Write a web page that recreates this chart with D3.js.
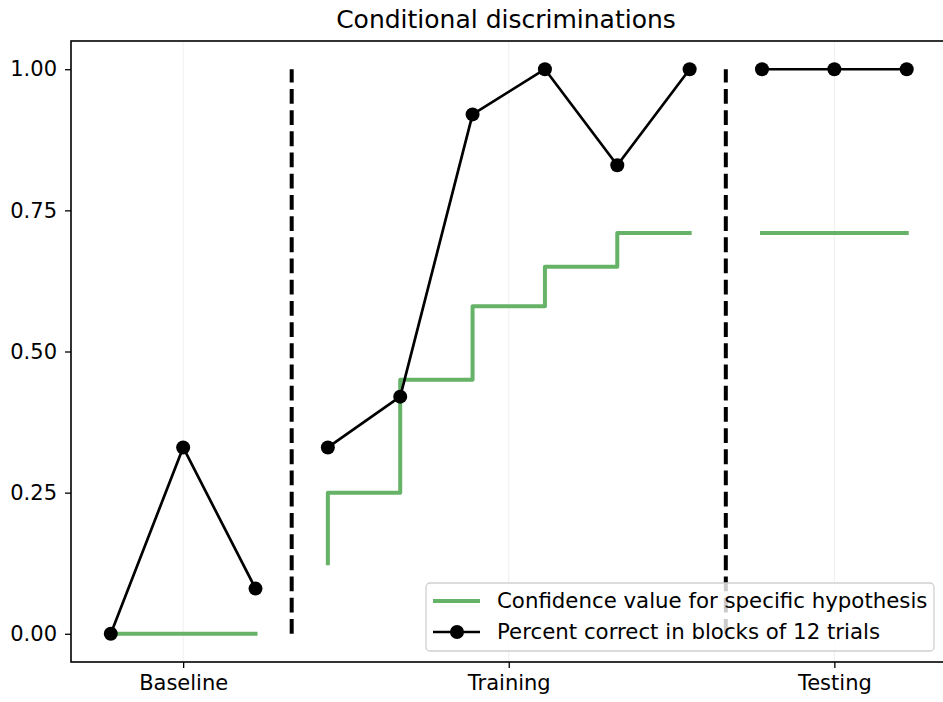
<!DOCTYPE html>
<html>
<head>
<meta charset="utf-8">
<script src="https://cdn.jsdelivr.net/npm/d3@7"></script>
<style>
  body { margin: 0; background: #fff; }
  text { font-family: "DejaVu Sans", sans-serif; }
</style>
</head>
<body>
<div id="wrapper"></div>
<script>
// data (x = block index)
const baselineX = [0, 1, 2]
const trainingX = [3, 4, 5, 6, 7, 8]
const testingX = [9, 10, 11]

const baselineCorrect = [0, 0.33, 0.08]
const trainingCorrect = [0.33, 0.42, 0.92, 1.0, 0.83, 1.0]
const testingCorrect = [1.0, 1.0, 1.0]

const baselineConfidence = [0, 0, 0]
const trainingConfidence = [0.125, 0.25, 0.45, 0.58, 0.65, 0.71]
const testingConfidence = [0.71, 0.71, 0.71]

const phaseTicks = [1, 5.5, 10]
const phaseLabels = ['Baseline', 'Training', 'Testing']
const dividers = [2.5, 8.5]
const yTicks = [0, 0.25, 0.5, 0.75, 1.0]

const legendLabels = ['Confidence value for specific hypothesis', 'Percent correct in blocks of 12 trials']

const greenColor = '#66b266'

const dimensions = {
  width: 943,
  height: 702,
  margins: { top: 41, right: -3.5, bottom: 40, left: 71 }
}
dimensions.boundedWidth = dimensions.width - dimensions.margins.left - dimensions.margins.right
dimensions.boundedHeight = dimensions.height - dimensions.margins.top - dimensions.margins.bottom

const wrapper = d3.select('#wrapper').append('svg')
  .attr('width', dimensions.width)
  .attr('height', dimensions.height)

const bounds = wrapper.append('g')
  .attr('transform', `translate(${dimensions.margins.left},${dimensions.margins.top})`)

const xScale = d3.scaleLinear()
  .domain([-0.55, 11.55])
  .range([0, dimensions.boundedWidth])

const yScale = d3.scaleLinear()
  .domain([-0.05, 1.05])
  .range([dimensions.boundedHeight, 0])

// light grid at phase ticks
bounds.append('g').selectAll('line')
  .data(phaseTicks)
  .enter().append('line')
  .attr('x1', d => xScale(d))
  .attr('x2', d => xScale(d))
  .attr('y1', 0)
  .attr('y2', dimensions.boundedHeight)
  .attr('stroke', '#b0b0b0')
  .attr('stroke-opacity', 0.2)
  .attr('stroke-width', 1.1)

// phase dividers
bounds.append('g').selectAll('line')
  .data(dividers)
  .enter().append('line')
  .attr('x1', d => xScale(d))
  .attr('x2', d => xScale(d))
  .attr('y1', yScale(0))
  .attr('y2', yScale(1))
  .attr('stroke', 'black')
  .attr('stroke-width', 4)
  .attr('stroke-dasharray', '14.8,6.4')

// confidence step lines
const stepLine = d3.line()
  .x(d => xScale(d[0]))
  .y(d => yScale(d[1]))
  .curve(d3.curveStepBefore)

const confidenceSets = [
  [baselineX, baselineConfidence],
  [trainingX, trainingConfidence],
  [testingX, testingConfidence]
]

confidenceSets.forEach(([xs, ys]) => {
  bounds.append('path')
    .datum(xs.map((x, i) => [x, ys[i]]))
    .attr('d', stepLine)
    .attr('fill', 'none')
    .attr('stroke', greenColor)
    .attr('stroke-width', 4)
    .attr('stroke-linecap', 'square')
    .attr('stroke-linejoin', 'round')
})

// percent correct lines
const line = d3.line()
  .x(d => xScale(d[0]))
  .y(d => yScale(d[1]))

const correctSets = [
  [baselineX, baselineCorrect],
  [trainingX, trainingCorrect],
  [testingX, testingCorrect]
]

correctSets.forEach(([xs, ys]) => {
  const pts = xs.map((x, i) => [x, ys[i]])
  bounds.append('path')
    .datum(pts)
    .attr('d', line)
    .attr('fill', 'none')
    .attr('stroke', 'black')
    .attr('stroke-width', 2.7)
    .attr('stroke-linejoin', 'round')
  bounds.append('g').selectAll('circle')
    .data(pts)
    .enter().append('circle')
    .attr('cx', d => xScale(d[0]))
    .attr('cy', d => yScale(d[1]))
    .attr('r', 7)
    .attr('fill', 'black')
})

// axes
const xAxisGenerator = d3.axisBottom(xScale)
  .tickValues(phaseTicks)
  .tickFormat((d, i) => phaseLabels[i])
  .tickSize(6)
  .tickSizeOuter(0)
  .tickPadding(7)

const xAxis = bounds.append('g')
  .attr('transform', `translate(0,${dimensions.boundedHeight})`)
  .call(xAxisGenerator)

const yAxisGenerator = d3.axisLeft(yScale)
  .tickValues(yTicks)
  .tickFormat(d3.format('.2f'))
  .tickSize(6)
  .tickSizeOuter(0)
  .tickPadding(8)

const yAxis = bounds.append('g')
  .call(yAxisGenerator)

;[xAxis, yAxis].forEach(ax => {
  ax.select('.domain').remove()
  ax.selectAll('.tick line').attr('stroke', 'black').attr('stroke-width', 1.3)
  ax.selectAll('.tick text')
    .attr('fill', 'black')
    .style('font-family', '"DejaVu Sans", sans-serif')
    .style('font-size', '21px')
})

// frame
bounds.append('rect')
  .attr('x', 0)
  .attr('y', 0)
  .attr('width', dimensions.boundedWidth)
  .attr('height', dimensions.boundedHeight)
  .attr('fill', 'none')
  .attr('stroke', 'black')
  .attr('stroke-width', 1.6)

// title
wrapper.append('text')
  .attr('x', 506)
  .attr('y', 28)
  .attr('text-anchor', 'middle')
  .style('font-size', '25px')
  .text('Conditional discriminations')

// legend
const legend = wrapper.append('g')
  .attr('transform', 'translate(426,583)')

legend.append('rect')
  .attr('width', 508)
  .attr('height', 68)
  .attr('rx', 4)
  .attr('fill', 'white')
  .attr('fill-opacity', 0.8)
  .attr('stroke', '#d0d0d0')
  .attr('stroke-width', 1.3)

legend.append('line')
  .attr('x1', 9).attr('x2', 52)
  .attr('y1', 18).attr('y2', 18)
  .attr('stroke', greenColor)
  .attr('stroke-width', 4)
  .attr('stroke-linecap', 'square')

legend.append('line')
  .attr('x1', 7).attr('x2', 54)
  .attr('y1', 49).attr('y2', 49)
  .attr('stroke', 'black')
  .attr('stroke-width', 2.7)

legend.append('circle')
  .attr('cx', 31)
  .attr('cy', 49)
  .attr('r', 7)
  .attr('fill', 'black')

legend.selectAll('text.lbl')
  .data(legendLabels)
  .enter().append('text')
  .attr('class', 'lbl')
  .attr('x', 71)
  .attr('y', (d, i) => 25 + i * 31)
  .style('font-size', '21.3px')
  .text(d => d)
</script>
</body>
</html>
